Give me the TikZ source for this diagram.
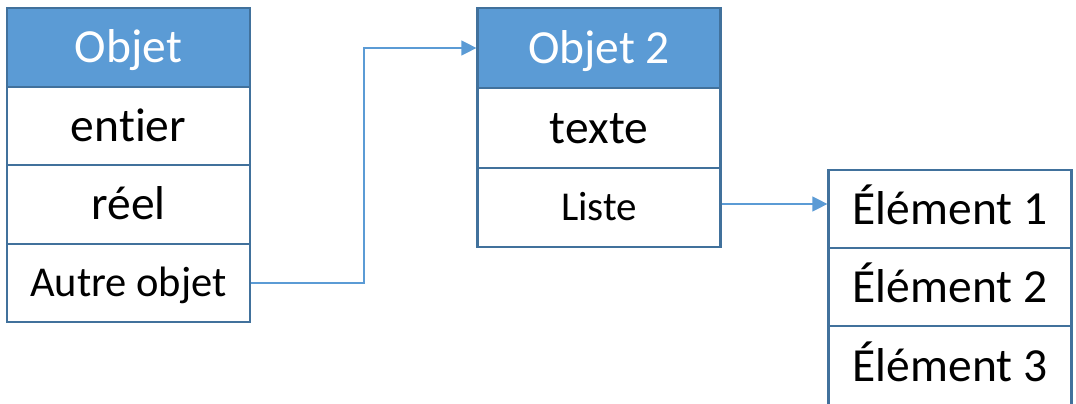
\documentclass[tikz,border=0pt]{standalone}
\usepackage{fontspec}
\setmainfont{Carlito}[RawFeature={-liga}]
\usetikzlibrary{arrows.meta}
\definecolor{hdrfill}{HTML}{5B9BD5}
\definecolor{cellline}{HTML}{41719C}
\definecolor{linkcol}{HTML}{5B9BD5}
\tikzset{
  cell/.style={draw=cellline, line width=2.2pt, fill=white, minimum width=243pt,
    inner sep=0pt, text height=30.6pt, text depth=0pt, font=\fontsize{47.5}{52}\selectfont},
  small/.style={font=\fontsize{41}{46}\selectfont, text height=26.4pt},
  smaller/.style={font=\fontsize{42.5}{47}\selectfont, text height=27.4pt},
  header/.style={cell, fill=hdrfill, text=white},
  link/.style={draw=linkcol, line width=1.2pt,
    -{Triangle[length=15pt,width=15pt]}}
}
\begin{document}
\begin{tikzpicture}[x=1pt,y=-1pt]
\useasboundingbox (0,0) rectangle (1076,404);
% first object
\node[header, minimum height=79pt] (a1) at (128.5,47.5) {Objet};
\node[cell, minimum height=78pt] (a2) at (128.5,126) {entier};
\node[cell, minimum height=79pt] (a3) at (128.5,204.5) {réel};
\node[cell, smaller, minimum height=78pt] (a4) at (128.5,283) {Autre objet};
% second object
\node[header, minimum height=80pt] (b1) at (599,48) {Objet 2};
\node[cell, minimum height=80pt] (b2) at (599,128) {texte};
\node[cell, small, minimum height=79pt] (b3) at (599,207.5) {Liste};
% list elements
\node[cell, minimum height=78pt] (c1) at (950,209) {Élément 1};
\node[cell, minimum height=78pt] (c2) at (950,287) {Élément 2};
\node[cell, minimum height=80pt] (c3) at (950,366) {Élément 3};
% connectors
\coordinate (elbow) at (364,0);
\coordinate (listout) at ([yshift=3.5pt]b3.east);
\draw[link] (a4.east) -| (elbow |- b1.west) -- (b1.west);
\draw[link] (listout) -- (listout -| c1.west);
\end{tikzpicture}
\end{document}
